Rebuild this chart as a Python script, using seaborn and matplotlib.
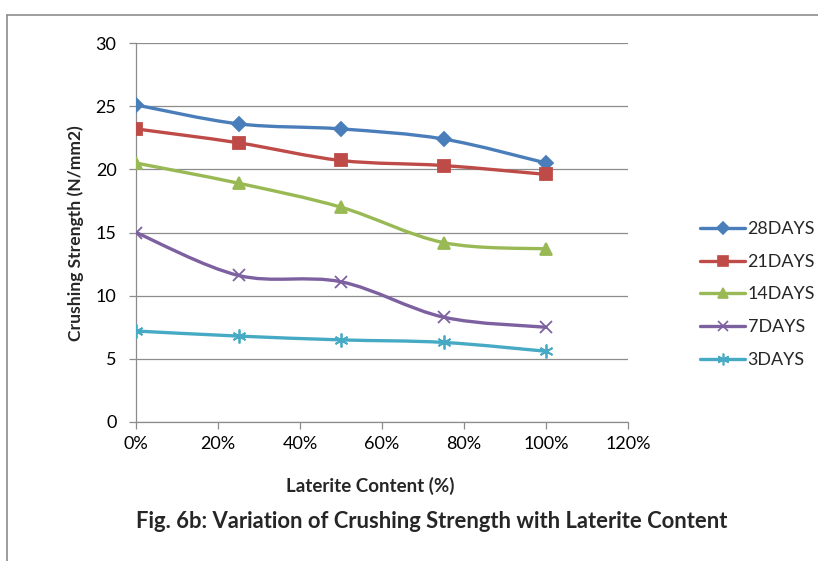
import numpy as np
import pandas as pd
import matplotlib
matplotlib.use("Agg")
import matplotlib.pyplot as plt
import seaborn as sns
from matplotlib.path import Path
from matplotlib.patches import PathPatch
from matplotlib.lines import Line2D
from matplotlib.ticker import FuncFormatter, MultipleLocator

# ---- data ----
laterite = [0.0, 0.25, 0.50, 0.75, 1.00]
days_28 = [25.1, 23.6, 23.2, 22.4, 20.5]
days_21 = [23.2, 22.1, 20.7, 20.3, 19.6]
days_14 = [20.5, 18.9, 17.0, 14.2, 13.7]
days_7 = [15.0, 11.6, 11.1, 8.3, 7.5]
days_3 = [7.2, 6.8, 6.5, 6.3, 5.6]
series_names = ["28DAYS", "21DAYS", "14DAYS", "7DAYS", "3DAYS"]
series_vals = [days_28, days_21, days_14, days_7, days_3]

x_ticks = [0, 0.2, 0.4, 0.6, 0.8, 1.0, 1.2]

colors = ["#4A7EBB", "#BE4B48", "#98B954", "#7D60A0", "#46AAC5"]
markers = ["D", "s", "^", "x", (6, 2, 0)]
msizes = [7, 8, 8, 9, 10]

sns.set_style("white")
plt.rcParams["font.family"] = ["Lato", "DejaVu Sans"]

fig = plt.figure(figsize=(8.18, 5.61), dpi=100)
ax = fig.add_axes([136 / 818, 1 - 422 / 561, (628 - 136) / 818, (422 - 43) / 561])


def smooth_path(xs, ys):
    pts = np.column_stack([xs, ys])
    verts = [pts[0]]
    codes = [Path.MOVETO]
    n = len(pts)
    for i in range(n - 1):
        p0 = pts[i - 1] if i > 0 else pts[i]
        p1 = pts[i]
        p2 = pts[i + 1]
        p3 = pts[i + 2] if i + 2 < n else pts[i + 1]
        c1 = p1 + (p2 - p0) / 6.0
        c2 = p2 - (p3 - p1) / 6.0
        verts += [c1, c2, p2]
        codes += [Path.CURVE4] * 3
    return Path(verts, codes)


for name, vals, c, m, ms in zip(series_names, series_vals, colors, markers, msizes):
    d = pd.DataFrame({"Laterite": laterite, "Strength": vals})
    sns.lineplot(data=d, x="Laterite", y="Strength", color=c, marker=m,
                 markersize=ms, markeredgecolor=c, markerfacecolor=c,
                 markeredgewidth=1.3, linewidth=0, ax=ax, zorder=4)
    patch = PathPatch(smooth_path(np.array(laterite), np.array(vals)),
                      facecolor="none", edgecolor=c, lw=2.4, zorder=3,
                      capstyle="round", joinstyle="round")
    ax.add_patch(patch)

ax.set_xlim(0, 1.2)
ax.set_ylim(0, 30)
ax.set_xticks(x_ticks)
ax.xaxis.set_major_formatter(FuncFormatter(lambda v, p: f"{v * 100:.0f}%"))
ax.yaxis.set_major_locator(MultipleLocator(5))
ax.grid(axis="y", color="#8C8C8C", lw=0.9)
ax.grid(axis="x", visible=False)
for s in ["top", "right"]:
    ax.spines[s].set_visible(False)
for s in ["left", "bottom"]:
    ax.spines[s].set_color("#8C8C8C")
    ax.spines[s].set_linewidth(0.9)
ax.tick_params(axis="both", which="major", direction="out", length=5,
               color="#8C8C8C", width=0.9, labelsize=13, labelcolor="#000000",
               left=True, bottom=True)
ax.tick_params(axis="x", pad=5)
ax.tick_params(axis="y", pad=9)
ax.set_axisbelow(True)

ax.set_xlabel("")
ax.set_ylabel("Crushing Strength (N/mm2)", fontsize=12.6, fontweight="bold")
ax.yaxis.set_label_coords(84 / 818, 1 - 233 / 561, transform=fig.transFigure)

fig.text(370 / 818, 1 - 486 / 561, "Laterite Content (%)", ha="center",
         va="center", fontsize=13.5, fontweight="bold")
fig.text(432 / 818, 1 - 521 / 561,
         "Fig. 6b: Variation of Crushing Strength with Laterite Content",
         ha="center", va="center", fontsize=15.8, fontweight="bold")

handles = [Line2D([0], [0], color=c, lw=2.4, marker=m, markersize=ms * 0.85,
                  markerfacecolor=c, markeredgecolor=c, markeredgewidth=1.2)
           for c, m, ms in zip(colors, markers, msizes)]
fig.legend(handles, series_names, loc="upper left",
           bbox_to_anchor=(693 / 818, 1 - 214 / 561), frameon=False,
           fontsize=12.9, handlelength=2.5, handletextpad=0.15,
           labelspacing=0.93, borderaxespad=0)

# outer frame
fig.add_artist(Line2D([7 / 818, 7 / 818], [0, 1 - 15 / 561], color="#8C8C8C",
                      lw=1.2, transform=fig.transFigure))
fig.add_artist(Line2D([7 / 818, 1], [1 - 15 / 561, 1 - 15 / 561],
                      color="#8C8C8C", lw=1.2, transform=fig.transFigure))

fig.savefig("out.png", dpi=100)
